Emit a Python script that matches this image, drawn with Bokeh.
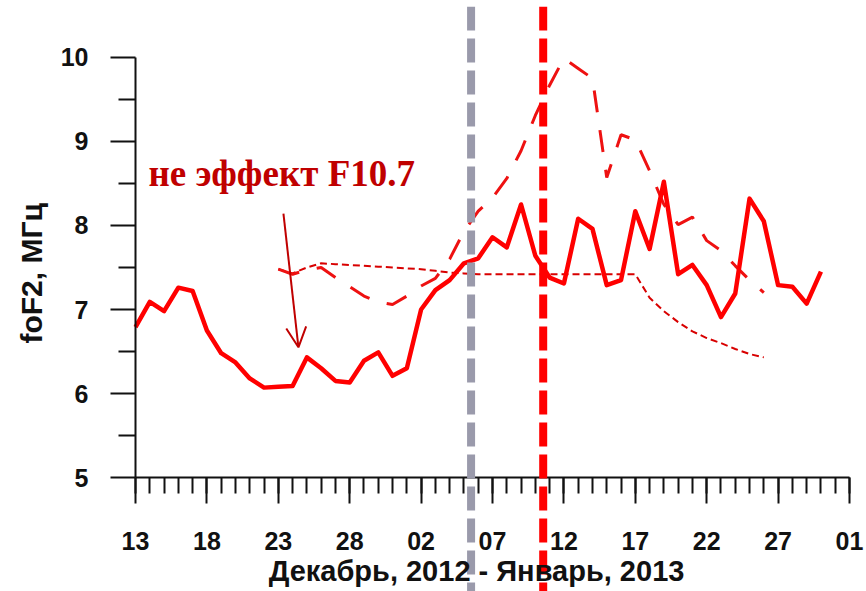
from bokeh.plotting import figure
from bokeh.models import (Range1d, LinearAxis, FixedTicker, Span, Label,
                          Arrow, OpenHead)
from bokeh.embed import file_html
from bokeh.resources import INLINE

# Day index: 0 = 13 December 2012
days = list(range(0, 49))
fof2_observed = [6.79, 7.09, 6.98, 7.26, 7.22, 6.75, 6.48, 6.37, 6.18, 6.07,
                 6.08, 6.09, 6.43, 6.30, 6.15, 6.13, 6.39, 6.49, 6.21, 6.30,
                 7.00, 7.23, 7.35, 7.55, 7.61, 7.86, 7.74, 8.25, 7.64, 7.38,
                 7.31, 8.08, 7.96, 7.29, 7.35, 8.17, 7.72, 8.52, 7.42, 7.53,
                 7.29, 6.91, 7.19, 8.32, 8.05, 7.29, 7.27, 7.07, 7.45]

ref_days = list(range(10, 45))
fof2_long_dash = [7.48, 7.42, 7.47, 7.50, 7.38, 7.27, 7.16, 7.09, 7.06, 7.16,
                  7.28, 7.37, 7.60, 7.93, 8.17, 8.33, 8.56, 8.89, 9.31, 9.67,
                  9.99, 9.87, 9.75, 8.57, 9.08, 9.02, 8.65, 8.25, 8.01, 8.10,
                  7.82, 7.70, 7.52, 7.35, 7.20]
fof2_short_dash = [7.48, 7.43, 7.50, 7.55, 7.54, 7.53, 7.52, 7.51, 7.50, 7.49,
                   7.48, 7.46, 7.44, 7.43, 7.42, 7.42, 7.42, 7.42, 7.42, 7.42,
                   7.42, 7.42, 7.42, 7.42, 7.42, 7.42, 7.14, 6.98, 6.85, 6.74,
                   6.66, 6.60, 6.53, 6.47, 6.43]

x_major = [0, 5, 10, 15, 20, 25, 30, 35, 40, 45, 50]
x_labels = ["13", "18", "23", "28", "02", "07", "12", "17", "22", "27", "01"]
y_major = [5, 6, 7, 8, 9, 10]
y_minor = [5.5, 6.5, 7.5, 8.5, 9.5]

storm_gray_day = 23.5
storm_red_day = 28.55

FONT = "Liberation Sans"
INK = "#111111"

# The frame fills the canvas; both axes sit at fixed data positions inside it.
p = figure(width=866, height=591, output_backend="svg", toolbar_location=None,
           x_range=Range1d(-9.454, 51.19), y_range=Range1d(3.643, 10.607),
           x_axis_location=None, y_axis_location=None,
           min_border_left=0, min_border_right=0,
           min_border_top=6, min_border_bottom=0)
p.grid.visible = False
p.outline_line_color = None
p.background_fill_color = "white"
p.border_fill_color = "white"


def style_axis(ax, tick_out, minor_out, standoff):
    ax.axis_line_color = INK
    ax.axis_line_width = 2
    ax.major_tick_line_color = INK
    ax.major_tick_line_width = 2
    ax.minor_tick_line_color = INK
    ax.minor_tick_line_width = 2
    ax.major_tick_out = tick_out
    ax.major_tick_in = 0
    ax.minor_tick_out = minor_out
    ax.minor_tick_in = 0
    ax.major_label_standoff = standoff
    ax.major_label_text_font = FONT
    ax.major_label_text_font_style = "bold"
    ax.major_label_text_font_size = "25px"
    ax.major_label_text_color = INK


# y axis on the line day = 0
yax = LinearAxis(fixed_location=0, bounds=(5, 10),
                 ticker=FixedTicker(ticks=y_major, minor_ticks=y_minor))
style_axis(yax, 25, 17, 22)
p.add_layout(yax, "left")

# x axis on the line foF2 = 5
xax = LinearAxis(fixed_location=5, bounds=(0, 50),
                 ticker=FixedTicker(ticks=x_major, minor_ticks=list(range(0, 51))))
xax.major_label_overrides = {d: s for d, s in zip(x_major, x_labels)}
style_axis(xax, 26, 16, 28)
p.add_layout(xax, "below")

# series
p.line(ref_days, fof2_short_dash, line_color="#d80000", line_width=2,
       line_dash="7 4")
p.line(ref_days, fof2_long_dash, line_color="#ee1111", line_width=3,
       line_dash="22 18")
p.line(days, fof2_observed, line_color="#ff0000", line_width=4.5,
       line_join="round")

# event markers
p.add_layout(Span(location=storm_gray_day, dimension="height",
                  line_color="#9a9aab", line_width=8, line_dash="24 8"))
p.add_layout(Span(location=storm_red_day, dimension="height",
                  line_color="#ff0000", line_width=8, line_dash="24 8"))

# annotation
p.add_layout(Label(x=0.91, y=8.62, text="не эффект F10.7",
                   text_font="Liberation Serif", text_font_style="bold",
                   text_font_size="37px", text_color="#c00000",
                   text_baseline="alphabetic", text_align="left"))
p.add_layout(Arrow(end=OpenHead(size=20, line_color="#c00000", line_width=2),
                   x_start=10.36, y_start=8.14, x_end=11.41, y_end=6.55,
                   line_color="#c00000", line_width=2))

# axis titles
p.add_layout(Label(x=23.88, y=3.89, text="Декабрь, 2012 - Январь, 2013",
                   text_font=FONT, text_font_style="bold",
                   text_font_size="29px", text_color=INK,
                   text_align="center", text_baseline="alphabetic"))
p.add_layout(Label(x=-7.3, y=7.43, text="foF2, МГц", angle=90,
                   angle_units="deg", text_font=FONT, text_font_style="bold",
                   text_font_size="30px", text_color=INK,
                   text_align="center", text_baseline="alphabetic"))

open("out.html", "w").write(file_html(p, INLINE))
